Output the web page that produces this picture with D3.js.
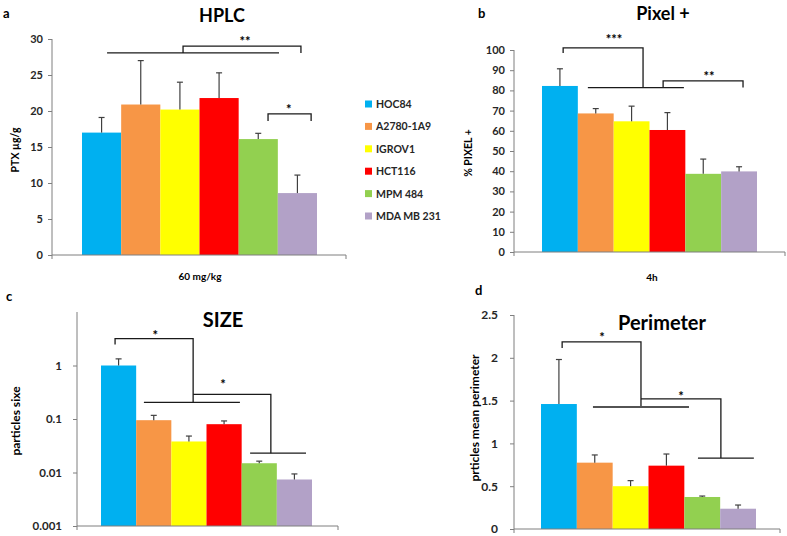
<!DOCTYPE html>
<html>
<head>
<meta charset="utf-8">
<script src="https://cdn.jsdelivr.net/npm/d3@7"></script>
<style>
  body { margin: 0; background: #fff; }
  svg { font-family: Lato, 'Open Sans', sans-serif; font-weight: bold; }
</style>
</head>
<body>
<svg id="chart" width="787" height="536"></svg>
<script>
// cell lines and their bar colours
const cellLines = ['HOC84', 'A2780-1A9', 'IGROV1', 'HCT116', 'MPM 484', 'MDA MB 231'];
const barColors = ['#00b0f0', '#f79646', '#ffff00', '#ff0000', '#92d050', '#b2a1c7'];

// a - HPLC
const hplcMeans = [17.0, 20.9, 20.2, 21.8, 16.1, 8.6];
const hplcSd = [2.1, 6.1, 3.8, 3.5, 0.8, 2.5];
const hplcTicks = [0, 5, 10, 15, 20, 25, 30];

// b - Pixel +
const pixelMeans = [82.2, 68.6, 64.7, 60.4, 38.7, 39.9];
const pixelSd = [8.5, 2.4, 7.5, 8.6, 7.3, 2.3];
const pixelTicks = [0, 10, 20, 30, 40, 50, 60, 70, 80, 90, 100];

// c - SIZE (log)
const sizeMeans = [1.0, 0.095, 0.038, 0.080, 0.0149, 0.0074];
const sizeSd = [0.33, 0.022, 0.010, 0.012, 0.0014, 0.002];
const sizeTicks = [0.001, 0.01, 0.1, 1];

// d - Perimeter
const perimMeans = [1.46, 0.775, 0.50, 0.74, 0.374, 0.237];
const perimSd = [0.52, 0.09, 0.065, 0.136, 0.011, 0.043];
const perimTicks = [0, 0.5, 1, 1.5, 2, 2.5];

// significance marks: polylines as [bar position, value]
const hplcSigLines = [
  [[0.64, 28.06], [5.03, 28.06]],
  [[2.58, 28.06], [2.58, 29.0], [5.59, 29.0], [5.59, 28.06]],
  [[4.75, 18.6], [4.75, 19.6], [5.85, 19.6], [5.85, 18.6]]
];
const hplcSigStars = [{ p: 4.16, v: 29.9, t: '**' }, { p: 5.28, v: 20.4, t: '*' }];

const pixelSigLines = [
  [[0.59, 98.5], [0.59, 101.1], [2.82, 101.1], [2.82, 81.4]],
  [[1.28, 81.4], [3.96, 81.4]],
  [[3.38, 81.4], [3.38, 84.7], [5.61, 84.7], [5.61, 81.4]]
];
const pixelSigStars = [{ p: 2.01, v: 105.9, t: '***' }, { p: 4.66, v: 87.6, t: '**' }];

const sizeSigLines = [
  [[0.40, 2.46], [0.40, 3.18], [2.62, 3.18], [2.62, 0.205]],
  [[1.22, 0.205], [3.95, 0.205]],
  [[2.62, 0.288], [4.83, 0.288], [4.83, 0.023]],
  [[4.24, 0.023], [5.83, 0.023]]
];
const sizeSigStars = [{ p: 1.54, v: 3.94, t: '*' }, { p: 3.47, v: 0.462, t: '*' }];

const perimSigLines = [
  [[0.59, 2.115], [0.59, 2.185], [2.79, 2.185], [2.79, 1.437]],
  [[1.45, 1.425], [4.13, 1.425]],
  [[2.79, 1.519], [5.02, 1.519], [5.02, 0.829]],
  [[4.38, 0.829], [5.94, 0.829]]
];
const perimSigStars = [{ p: 1.70, v: 2.255, t: '*' }, { p: 3.91, v: 1.565, t: '*' }];

const svg = d3.select('#chart');

function drawPanel(cfg) {
  const g = svg.append('g');

  const x = d3.scaleBand()
    .domain(cellLines)
    .range([cfg.barsX0, cfg.barsX1])
    .paddingInner(0)
    .paddingOuter(0);

  const y = cfg.log
    ? d3.scaleLog().domain(cfg.domain).range([cfg.yBottom, cfg.yTop])
    : d3.scaleLinear().domain(cfg.domain).range([cfg.yBottom, cfg.yTop]);

  const xp = p => cfg.barsX0 + p * x.bandwidth();

  // bars
  g.append('g')
    .selectAll('rect')
    .data(cfg.means)
    .join('rect')
    .attr('x', (d, i) => x(cellLines[i]))
    .attr('width', x.bandwidth())
    .attr('y', d => y(d))
    .attr('height', d => cfg.yBottom - y(d))
    .attr('fill', (d, i) => barColors[i]);

  // error bars (upper only)
  const eb = g.append('g')
    .attr('stroke', '#404040')
    .attr('stroke-width', 1.2);
  cfg.means.forEach((m, i) => {
    const cx = x(cellLines[i]) + x.bandwidth() / 2;
    const top = y(m + cfg.sd[i]);
    eb.append('line').attr('x1', cx).attr('x2', cx).attr('y1', y(m)).attr('y2', top);
    eb.append('line').attr('x1', cx - 3).attr('x2', cx + 3).attr('y1', top).attr('y2', top);
  });

  // y axis
  const yAxis = d3.axisLeft(y)
    .tickValues(cfg.ticks)
    .tickFormat(d => String(d))
    .tickSizeInner(4)
    .tickSizeOuter(0)
    .tickPadding(cfg.tickPad);
  const ya = g.append('g')
    .attr('transform', `translate(${cfg.axisX},0)`)
    .call(yAxis);
  ya.select('.domain').attr('stroke', '#7f7f7f').attr('d', `M0,${cfg.yTop}V${cfg.yBottom + 4}`);
  ya.selectAll('.tick line').attr('stroke', '#7f7f7f');
  ya.selectAll('.tick text')
    .attr('fill', '#262626')
    .style('font-size', cfg.tickSize)
    .style('font-weight', 'bold')
    .style('font-family', "Lato, 'Open Sans', sans-serif");

  // x axis baseline
  g.append('path')
    .attr('d', `M${cfg.axisX},${cfg.yBottom}H${cfg.axisEnd}V${cfg.yBottom + 4}`)
    .attr('fill', 'none')
    .attr('stroke', '#7f7f7f');

  // significance brackets
  const line = d3.line().x(d => xp(d[0])).y(d => y(d[1]));
  g.append('g')
    .selectAll('path')
    .data(cfg.sigLines)
    .join('path')
    .attr('d', line)
    .attr('fill', 'none')
    .attr('stroke', '#1a1a1a')
    .attr('stroke-width', 1.3);

  g.append('g')
    .selectAll('text')
    .data(cfg.sigStars)
    .join('text')
    .attr('x', d => xp(d.p))
    .attr('y', d => y(d.v) + 6)
    .attr('text-anchor', 'middle')
    .style('font-size', '13px')
    .text(d => d.t);

  // title, letter, axis labels
  g.append('text')
    .attr('x', cfg.titleX).attr('y', cfg.titleY)
    .attr('text-anchor', 'middle')
    .style('font-size', cfg.titleSize)
    .text(cfg.title);

  g.append('text')
    .attr('x', cfg.letterX).attr('y', cfg.letterY)
    .style('font-size', '13px')
    .text(cfg.letter);

  g.append('text')
    .attr('transform', `translate(${cfg.yLabelX},${cfg.yLabelY}) rotate(-90)`)
    .attr('text-anchor', 'middle')
    .style('font-size', cfg.yLabelSize)
    .text(cfg.yLabel);

  if (cfg.xLabel) {
    g.append('text')
      .attr('x', cfg.xLabelX).attr('y', cfg.xLabelY)
      .attr('text-anchor', 'middle')
      .style('font-size', '10px')
      .text(cfg.xLabel);
  }
}

drawPanel({
  means: hplcMeans, sd: hplcSd, ticks: hplcTicks, domain: [0, 30],
  barsX0: 82, barsX1: 317, axisX: 52, axisEnd: 346, yTop: 39, yBottom: 255, tickPad: 5, tickSize: '11px',
  sigLines: hplcSigLines, sigStars: hplcSigStars,
  title: 'HPLC', titleX: 222, titleY: 22, titleSize: '18px',
  letter: 'a', letterX: 3, letterY: 18,
  yLabel: 'PTX µg/g', yLabelX: 19, yLabelY: 150, yLabelSize: '10.5px',
  xLabel: '60 mg/kg', xLabelX: 200, xLabelY: 280
});

drawPanel({
  means: pixelMeans, sd: pixelSd, ticks: pixelTicks, domain: [0, 100],
  barsX0: 542, barsX1: 757, axisX: 514, axisEnd: 785, yTop: 50, yBottom: 252, tickPad: 5, tickSize: '11px',
  sigLines: pixelSigLines, sigStars: pixelSigStars,
  title: 'Pixel +', titleX: 663, titleY: 20, titleSize: '18px',
  letter: 'b', letterX: 478, letterY: 18,
  yLabel: '% PIXEL +', yLabelX: 472, yLabelY: 153, yLabelSize: '10.5px',
  xLabel: '4h', xLabelX: 652, xLabelY: 281
});

drawPanel({
  means: sizeMeans, sd: sizeSd, ticks: sizeTicks, domain: [0.001, 10], log: true,
  barsX0: 101, barsX1: 312, axisX: 77, axisEnd: 338, yTop: 312, yBottom: 526, tickPad: 11, tickSize: '11.5px',
  sigLines: sizeSigLines, sigStars: sizeSigStars,
  title: 'SIZE', titleX: 223, titleY: 327, titleSize: '20px',
  letter: 'c', letterX: 6, letterY: 301,
  yLabel: 'particles sixe', yLabelX: 20, yLabelY: 421, yLabelSize: '12px'
});

drawPanel({
  means: perimMeans, sd: perimSd, ticks: perimTicks, domain: [0, 2.5],
  barsX0: 541, barsX1: 756, axisX: 514, axisEnd: 780, yTop: 315, yBottom: 529, tickPad: 12, tickSize: '12px',
  sigLines: perimSigLines, sigStars: perimSigStars,
  title: 'Perimeter', titleX: 662, titleY: 330, titleSize: '20px',
  letter: 'd', letterX: 475, letterY: 295,
  yLabel: 'prticles mean perimeter', yLabelX: 479, yLabelY: 418, yLabelSize: '12px'
});

// legend
const legend = svg.append('g').attr('transform', 'translate(365,104)');
const ly = d3.scalePoint().domain(cellLines).range([0, 112]);
const items = legend.selectAll('g')
  .data(cellLines)
  .join('g')
  .attr('transform', d => `translate(0,${ly(d)})`);
items.append('rect')
  .attr('x', 0).attr('y', -3.5)
  .attr('width', 7).attr('height', 7)
  .attr('fill', (d, i) => barColors[i]);
items.append('text')
  .attr('x', 11).attr('y', 4)
  .style('font-size', '10.5px')
  .attr('fill', '#262626')
  .text(d => d);
</script>
</body>
</html>
